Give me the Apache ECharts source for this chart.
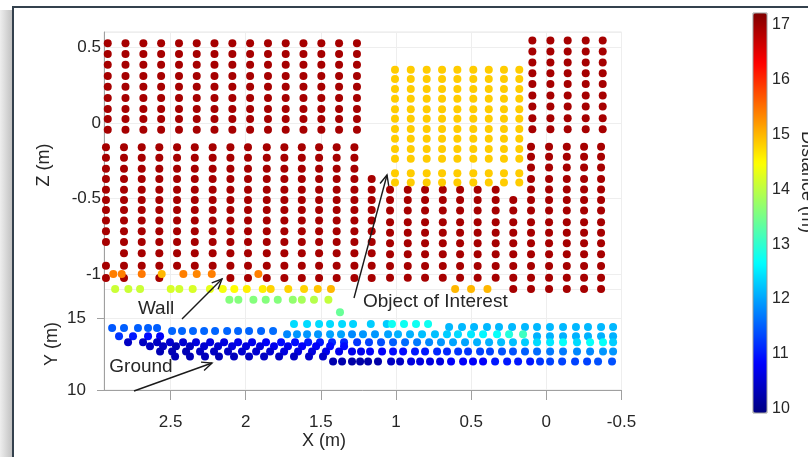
<!DOCTYPE html>
<html><head><meta charset="utf-8">
<script src="https://cdn.jsdelivr.net/npm/echarts@6/dist/echarts.min.js"></script>
<style>html,body{margin:0;padding:0;background:#fff}#c{width:808px;height:457px}</style>
</head><body><div id="c"></div>
<script>
const FONT = '"Liberation Sans", Arial, Helvetica, sans-serif';
const TXT = '#262626';

// ---------- axis ranges ----------
const xRange = [-0.5, 2.943];
const zRange = [-1.1, 0.6];
const yRange = [10, 17];
const distRange = [9.92, 17.22];

// ---------- back wall (distance ~16.95 m) ----------
const wallDist = 16.95;
const wallUpperLeftX = [2.918, 2.800, 2.681, 2.563, 2.444, 2.326, 2.208, 2.089, 1.971, 1.852, 1.734, 1.616, 1.497, 1.379, 1.260];
const wallUpperLeftZ = [0.525, 0.454, 0.384, 0.310, 0.238, 0.165, 0.092, 0.025, -0.046];
const wallUpperRightX = [0.093, -0.027, -0.142, -0.262, -0.375];
const wallUpperRightZ = [0.544, 0.471, 0.398, 0.328, 0.256, 0.180, 0.108, 0.031, -0.042];
const wallLowerLeftX = [2.930, 2.810, 2.692, 2.575, 2.457, 2.339, 2.220, 2.102, 1.985, 1.860, 1.743, 1.627, 1.512, 1.395, 1.277, 1.162];
const wallLowerLeftZ = [-0.161, -0.231, -0.302, -0.370, -0.441, -0.509, -0.575, -0.644, -0.715, -0.786, -0.861, -0.943, -1.024];
const wallLowerLeftGaps = [[0, 10], [2, 12], [4, 12], [5, 12], [6, 12], [15, 0], [15, 1], [15, 2]];
const wallUnderObjectX = [1.040, 0.922, 0.807, 0.689, 0.574, 0.457, 0.337];
const wallUnderObjectZ = [-0.441, -0.509, -0.579, -0.656, -0.725, -0.795, -0.867, -0.945, -1.022];
const wallLowerRightX = [0.220, 0.102, -0.018, -0.136, -0.251, -0.364];
const wallLowerRightZ = [-0.157, -0.223, -0.295, -0.370, -0.439, -0.509, -0.579, -0.656, -0.725, -0.795, -0.867, -0.945, -1.022, -1.096];
const wallLowerRightGaps = [[0, 0], [0, 1], [0, 2], [0, 3], [0, 4]];

// ---------- object of interest (distance ~14.85 m) ----------
const objectDist = 14.85;
const objectX = [1.007, 0.902, 0.796, 0.694, 0.592, 0.486, 0.383, 0.282, 0.180];
const objectZ = [0.350, 0.289, 0.223, 0.159, 0.090, 0.028, -0.040, -0.104, -0.172, -0.236, -0.332, -0.394];

// ---------- floor points seen at the foot of the wall ----------
const floorOrangeZ = -0.997;
const floorOrangeX = [2.881, 2.825, 2.692, 2.559, 2.415, 2.326, 2.226, 1.916];
const floorOrangeD = [15.4, 15.4, 15.45, 15.0, 15.4, 15.35, 15.4, 15.4];
const floorYellowZ = -1.096;
const floorYellowX = [2.869, 2.781, 2.703, 2.499, 2.442, 2.353, 2.238, 2.153, 2.076, 1.993, 1.887, 1.834, 1.717, 1.612, 1.521, 1.433, 0.607, 0.501, 0.392];
const floorYellowD = [14.1, 14.1, 14.1, 14.2, 14.15, 14.2, 14.3, 14.4, 14.5, 14.6, 14.6, 14.8, 14.8, 14.8, 14.9, 15.0, 15.0, 15.0, 15.0];

// ---------- ground (X vs Y) ----------
const groundGreenX = [2.109, 2.049, 1.949, 1.867, 1.787, 1.687, 1.627, 1.546, 1.450, 1.373];
const groundGreenY = [16.29, 16.29, 16.29, 16.29, 16.29, 16.29, 16.29, 16.29, 16.29, 15.42];
const groundGreenD = [13.6, 13.6, 13.6, 13.6, 13.6, 13.7, 13.85, 13.95, 14.05, 13.4];

const gR0aY = 14.60;
const gR0aX = [1.679, 1.592, 1.512, 1.439, 1.359, 1.286, 1.168, 1.062, 1.027, 0.947, 0.867, 0.787];
const gR0aD = [12.4, 12.4, 12.4, 12.4, 12.4, 12.35, 12.3, 12.3, 12.75, 12.75, 12.75, 12.75];
const gR0bY = 14.385;
const gR0bX = [0.647, 0.561, 0.481, 0.395, 0.315, 0.228, 0.142, 0.062, -0.024, -0.111, -0.197, -0.277, -0.364, -0.444];
const gR0bD = [12.15, 12.15, 12.15, 12.15, 12.15, 12.15, 12.15, 12.15, 12.15, 12.15, 12.15, 12.15, 12.15, 12.15];
const gR1Y = 14.314;
const gR1X = [2.889, 2.810, 2.717, 2.650, 2.590];
const gR1D = [11.45, 11.5, 11.5, 11.5, 11.5];
const gR1bY = 14.102;
const gR1bX = [2.490, 2.424, 2.351, 2.277, 2.204, 2.124, 2.051, 1.978, 1.898, 1.818];
const gR1bD = [11.55, 11.55, 11.55, 11.55, 11.55, 11.55, 11.55, 11.55, 11.55, 11.6];
const gR2Y = 13.89;
const gR2X = [1.725, 1.659, 1.592, 1.519, 1.439, 1.366, 1.293, 1.220, 1.140, 1.053, 0.987, 0.907, 0.827, 0.741, 0.661, 0.588, 0.501, 0.421, 0.328, 0.248, 0.155];
const gR2D = [11.8, 11.9, 11.9, 11.9, 12.0, 12.0, 11.8, 11.9, 11.9, 12.0, 12.1, 12.1, 12.2, 12.2, 12.3, 12.4, 12.5, 12.6, 12.7, 12.9, 13.1];
const gR2rY = 13.75;
const gR2rX = [0.062, -0.024, -0.111, -0.197, -0.277, -0.364, -0.444];
const gR2rD = [12.1, 12.1, 12.1, 12.1, 12.1, 12.1, 12.1];
const gR2lY = 13.75;
const gR2lX = [2.843, 2.750, 2.650, 2.570];
const gR2lD = [11.2, 11.0, 10.9, 10.8];
const gR3Y = 13.324;
const gR3X = [2.783, 2.683, 2.590, 2.504, 2.417, 2.331, 2.237, 2.144, 2.051, 1.958, 1.865, 1.765, 1.672, 1.585, 1.506, 1.426, 1.346, 1.259, 1.180, 1.100, 1.020, 0.940, 0.860, 0.780, 0.701, 0.621, 0.541, 0.461, 0.381, 0.301, 0.222, 0.142, 0.062, -0.025, -0.111, -0.204, -0.291, -0.377, -0.444];
const gR3D = [10.4, 10.4, 10.4, 10.5, 10.5, 10.6, 10.6, 10.6, 10.7, 10.7, 10.8, 10.9, 10.9, 11.0, 11.0, 11.1, 11.1, 11.2, 11.3, 11.4, 11.5, 11.6, 11.7, 11.8, 11.9, 12.0, 12.0, 12.1, 12.1, 12.2, 12.2, 12.3, 12.4, 12.5, 12.7, 12.4, 12.7, 12.7, 12.3];
const gR4Y = 13.041;
const gR4X = [2.637, 2.550, 2.464, 2.371, 2.277, 2.184, 2.091, 1.998, 1.905, 1.812, 1.719, 1.625, 1.532, 1.439, 1.346];
const gR4D = [10.4, 10.4, 10.3, 10.4, 10.5, 10.5, 10.6, 10.6, 10.6, 10.7, 10.7, 10.8, 10.8, 10.9, 10.9];
const gR5Y = 12.687;
const gR5X = [2.570, 2.490, 2.397, 2.304, 2.211, 2.118, 2.025, 1.931, 1.838, 1.745, 1.652, 1.559, 1.466, 1.379, 1.293, 1.233, 1.173, 1.093, 1.020, 0.953, 0.874, 0.807, 0.727, 0.661, 0.587, 0.521, 0.441, 0.375, 0.295, 0.222, 0.142, 0.062, -0.025, -0.111, -0.204, -0.291, -0.377, -0.444];
const gR5D = [10.3, 10.3, 10.3, 10.4, 10.4, 10.4, 10.5, 10.5, 10.5, 10.6, 10.6, 10.6, 10.7, 10.7, 10.7, 10.7, 10.8, 10.8, 10.9, 10.9, 11.0, 11.0, 11.1, 11.1, 11.2, 11.2, 11.3, 11.3, 11.4, 11.4, 11.5, 11.6, 11.7, 11.7, 11.8, 11.8, 11.9, 11.9];
const gR6Y = 12.334;
const gR6X = [2.470, 2.371, 2.271, 2.178, 2.078, 1.978, 1.878, 1.778, 1.679, 1.579, 1.486];
const gR6D = [10.3, 10.3, 10.35, 10.3, 10.35, 10.4, 10.4, 10.4, 10.4, 10.45, 10.45];
const gR7Y = 11.98;
const gR7X = [1.419, 1.359, 1.293, 1.239, 1.186, 1.120, 1.033, 0.973, 0.900, 0.840, 0.774, 0.707, 0.634, 0.554, 0.488, 0.421, 0.341, 0.261, 0.188, 0.108, 0.042, -0.025, -0.105, -0.191, -0.271, -0.344, -0.437];
const gR7D = [10.25, 10.25, 10.2, 10.2, 10.2, 10.2, 10.4, 10.4, 10.6, 10.6, 10.6, 10.6, 10.8, 10.8, 10.8, 10.8, 11.0, 11.0, 11.0, 11.0, 11.2, 11.3, 11.3, 11.3, 11.3, 11.4, 11.4];

// jet colour map
const jet = ['#000080', '#0000ff', '#0080ff', '#00ffff', '#80ff80', '#ffff00', '#ff8000', '#ff0000', '#800000'];

// ---------- build data ----------
function gridPts(xs, zs, d, gaps) {
  const skip = new Set((gaps || []).map(g => g[0] + ':' + g[1]));
  const out = [];
  xs.forEach((x, i) => zs.forEach((z, j) => { if (!skip.has(i + ':' + j)) out.push([x, z, d]); }));
  return out;
}
function rowPts(xs, y, ds) { return xs.map((x, i) => [x, Array.isArray(y) ? y[i] : y, ds[i]]); }

const wallData = [].concat(
  gridPts(wallUpperLeftX, wallUpperLeftZ, wallDist),
  gridPts(wallUpperRightX, wallUpperRightZ, wallDist),
  gridPts(wallLowerLeftX, wallLowerLeftZ, wallDist, wallLowerLeftGaps),
  gridPts(wallUnderObjectX, wallUnderObjectZ, wallDist),
  gridPts(wallLowerRightX, wallLowerRightZ, wallDist, wallLowerRightGaps)
);
const objectData = gridPts(objectX, objectZ, objectDist);
const floorData = [].concat(rowPts(floorOrangeX, floorOrangeZ, floorOrangeD), rowPts(floorYellowX, floorYellowZ, floorYellowD));
const groundData = [].concat(
  rowPts(groundGreenX, groundGreenY, groundGreenD),
  rowPts(gR0aX, gR0aY, gR0aD), rowPts(gR0bX, gR0bY, gR0bD),
  rowPts(gR1X, gR1Y, gR1D), rowPts(gR1bX, gR1bY, gR1bD),
  rowPts(gR2X, gR2Y, gR2D), rowPts(gR2rX, gR2rY, gR2rD), rowPts(gR2lX, gR2lY, gR2lD),
  rowPts(gR3X, gR3Y, gR3D), rowPts(gR4X, gR4Y, gR4D), rowPts(gR5X, gR5Y, gR5D),
  rowPts(gR6X, gR6Y, gR6D), rowPts(gR7X, gR7Y, gR7D)
);

// ---------- annotations (pixel layout) ----------
function arrow(x1, y1, x2, y2) {
  const a = Math.atan2(y2 - y1, x2 - x1), s = 11, sp = 0.42;
  const st = { stroke: '#1a1a1a', lineWidth: 1.4, fill: null };
  return [
    { type: 'line', shape: { x1, y1, x2, y2 }, style: st, z: 50 },
    { type: 'polyline', shape: { points: [[x2 - s * Math.cos(a - sp), y2 - s * Math.sin(a - sp)], [x2, y2], [x2 - s * Math.cos(a + sp), y2 - s * Math.sin(a + sp)]] }, style: st, z: 50 }
  ];
}
function label(x, y, text, size, rot, align) {
  return { type: 'text', x, y, rotation: rot || 0, z: 50,
    style: { text, font: size + 'px ' + FONT, fill: TXT, align: align || 'center', verticalAlign: 'middle' } };
}

const graphics = [
  { type: 'rect', shape: { x: 0, y: 10, width: 12, height: 447 }, z: 1,
    style: { fill: new echarts.graphic.LinearGradient(0, 0, 1, 0, [{ offset: 0, color: '#eeeeee' }, { offset: 1, color: '#c2c2c2' }]) } },
  { type: 'line', shape: { x1: 12, y1: 7, x2: 808, y2: 7 }, style: { stroke: '#34414d', lineWidth: 2 }, z: 60 },
  { type: 'line', shape: { x1: 13, y1: 6, x2: 13, y2: 457 }, style: { stroke: '#34414d', lineWidth: 2 }, z: 60 },
  label(44, 165, 'Z (m)', 18, Math.PI / 2),
  label(52, 344, 'Y (m)', 18, Math.PI / 2),
  label(324, 441, 'X (m)', 18),
  label(807, 182, 'Distance (m)', 18, -Math.PI / 2),
  label(156, 309, 'Wall', 19),
  label(141, 367, 'Ground', 19),
  label(363, 302, 'Object of Interest', 19, 0, 'left')
].concat(arrow(182, 319, 222, 279), arrow(134, 391, 212, 363), arrow(354, 298, 387, 175));

const axisGray = '#a0a0a0';
const gridLine = { show: true, lineStyle: { color: '#eeeeee' } };
const scatterBase = { type: 'scatter', symbolSize: 8, silent: true, clip: false, animation: false, itemStyle: { opacity: 1 } };

const option = {
  animation: false,
  backgroundColor: '#ffffff',
  textStyle: { fontFamily: FONT },
  grid: [
    { left: 104, right: 186.5, top: 32, height: 257.5, show: true, borderColor: '#e6e6e6', borderWidth: 1 },
    { left: 104, right: 186.5, top: 289.5, height: 100.5, show: true, borderColor: '#e6e6e6', borderWidth: 1 },
    { left: 753, width: 14, top: 13, height: 400, show: true, borderColor: '#9a9a9a', borderWidth: 1, z: 10 }
  ],
  xAxis: [
    { gridIndex: 0, type: 'value', min: xRange[0], max: xRange[1], interval: 0.5, inverse: true,
      axisLine: { show: false, onZero: false }, axisTick: { show: false }, axisLabel: { show: false },
      splitLine: gridLine },
    { gridIndex: 1, type: 'value', min: xRange[0], max: xRange[1], interval: 0.5, inverse: true,
      axisLine: { show: true, onZero: false, lineStyle: { color: axisGray } },
      axisTick: { show: true, length: 10, lineStyle: { color: axisGray } },
      axisLabel: { margin: 24, fontSize: 17, color: TXT, fontFamily: FONT, showMaxLabel: false },
      splitLine: gridLine },
    { gridIndex: 2, type: 'value', show: false, min: 0, max: 1 }
  ],
  yAxis: [
    { gridIndex: 0, type: 'value', min: zRange[0], max: zRange[1], splitNumber: 4, minInterval: 0.5, maxInterval: 0.5,
      axisLine: { show: true, onZero: false, lineStyle: { color: axisGray } }, axisTick: { show: false },
      axisLabel: { margin: 3, fontSize: 17, color: TXT, fontFamily: FONT, showMinLabel: false, showMaxLabel: false },
      splitLine: gridLine },
    { gridIndex: 1, type: 'value', min: yRange[0], max: yRange[1], interval: 5,
      axisLine: { show: true, onZero: false, lineStyle: { color: axisGray } },
      axisTick: { show: true, length: 7, lineStyle: { color: axisGray } },
      axisLabel: { margin: 18, fontSize: 17, color: TXT, fontFamily: FONT, showMaxLabel: false },
      splitLine: gridLine },
    { gridIndex: 2, type: 'value', position: 'right', min: distRange[0], max: distRange[1], splitNumber: 7, minInterval: 1, maxInterval: 1,
      axisLine: { show: false, onZero: false },
      axisTick: { show: true, inside: true, length: 4, lineStyle: { color: '#555' } },
      axisLabel: { margin: 5, fontSize: 16, color: TXT, fontFamily: FONT, showMinLabel: false, showMaxLabel: false },
      splitLine: { show: false } }
  ],
  visualMap: {
    type: 'continuous', min: distRange[0], max: distRange[1], dimension: 2, seriesIndex: [0, 1, 2, 3],
    inRange: { color: jet }, orient: 'vertical', left: 753, top: 13, itemWidth: 14, itemHeight: 400,
    padding: 0, calculable: false, hoverLink: false, text: null, showLabel: false
  },
  series: [
    Object.assign({ name: 'Wall', xAxisIndex: 0, yAxisIndex: 0, data: wallData }, scatterBase),
    Object.assign({ name: 'Object', xAxisIndex: 0, yAxisIndex: 0, data: objectData }, scatterBase),
    Object.assign({ name: 'Floor', xAxisIndex: 0, yAxisIndex: 0, data: floorData }, scatterBase),
    Object.assign({ name: 'Ground', xAxisIndex: 1, yAxisIndex: 1, data: groundData }, scatterBase)
  ],
  graphic: graphics
};

const chart = echarts.init(document.getElementById('c'), null, { renderer: 'canvas' });
chart.setOption(option);
</script></body></html>
